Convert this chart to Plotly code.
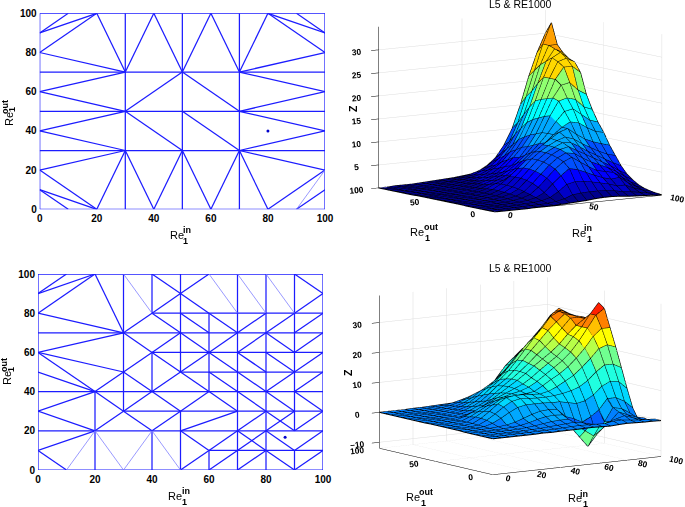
import numpy as np
import plotly.graph_objects as go

W, H = 685, 507
TITLE = "L5 & RE1000"
BLUE = "#1c1cff"
GRID_IN = list(range(0, 101, 5))
GRID_OUT = list(range(0, 101, 5))

# ---- mesh panels: edges in (Re_in, Re_out)
MESH1_EDGES = [
 (0,0,100,0),(0,100,100,100),(0,0,0,100),(100,0,100,100),
 (30,0,30,100),(50,0,50,100),(70,0,70,100),(0,30,100,30),(0,50,100,50),(0,70,100,70),
 (0,90,10,100),(0,90,20,100),(0,80,20,100),(20,100,30,70),(0,80,30,70),(30,70,40,100),(40,100,50,70),
 (50,70,60,100),(60,100,70,70),(70,70,80,100),(80,100,100,90),(80,100,100,80),(90,100,100,90),(70,70,100,80),
 (0,60,30,70),(0,60,30,50),(30,50,50,70),(50,70,70,50),(70,70,100,60),(70,50,100,60),(0,40,30,50),(0,40,30,30),
 (30,50,50,30),(50,50,70,30),(70,50,100,40),(70,30,100,40),(0,20,30,30),(30,30,20,0),(30,30,40,0),(40,0,50,30),
 (50,30,60,0),(60,0,70,30),(70,30,80,0),(70,30,100,20),(80,0,100,20),(90,0,100,10),(0,20,20,0),(0,10,20,0),(0,10,10,0),
]
MESH1_THIN = [(90,0,100,20)]
MESH1_POINT = (80, 40)

MESH2_EDGES = [
 (0,0,100,0),(0,100,100,100),(0,0,0,100),(100,0,100,100),
 (0,70,100,70),(0,40,100,40),(0,20,100,20),(50,50,100,50),(40,60,100,60),(40,80,100,80),(30,30,100,30),(60,10,100,10),
 (20,0,20,40),(30,30,30,100),(40,0,40,20),(40,40,40,60),(40,80,40,100),(50,0,50,30),(50,50,50,100),
 (60,40,60,80),(60,0,60,10),(70,0,70,100),(80,0,80,100),(90,20,90,100),(90,0,90,10),
 (0,90,10,100),(0,90,20,100),(0,80,20,100),(20,100,30,70),(0,80,30,70),(30,70,40,80),(30,70,0,60),(30,70,40,60),
 (0,60,30,50),(0,60,20,40),(0,50,20,40),(20,40,0,30),(20,40,30,50),(30,50,40,60),(40,60,50,70),(40,80,50,90),(40,80,50,70),
 (40,100,50,90),(50,90,60,100),(50,90,60,80),(50,80,60,70),(50,70,60,60),(60,80,70,70),(70,70,80,80),
 (80,70,90,80),(90,70,100,80),(80,70,90,60),(60,60,70,70),(70,60,80,70),(90,60,100,70),(60,60,70,50),(70,60,80,50),
 (80,60,90,50),(90,50,100,60),(50,50,60,60),(90,100,100,90),(90,80,100,90),
 (30,50,40,40),(20,40,30,30),(30,30,40,40),(40,60,50,50),(40,40,50,50),(50,50,60,40),(40,40,50,30),(30,30,40,20),(40,20,50,30),
 (20,20,30,30),(0,30,20,20),(0,10,20,20),(0,10,10,0),
 (50,30,60,40),(60,40,70,30),(60,50,70,40),(70,50,80,40),(70,40,80,30),(80,40,90,30),(80,40,90,50),(90,40,100,50),(90,40,100,30),
 (80,30,90,20),(90,20,100,30),(90,30,80,20),(80,20,60,0),(70,20,80,10),(80,10,90,0),(70,20,60,10),(60,10,50,0),(50,20,60,10),
 (50,20,70,30),(70,0,80,10),(80,20,90,10),(90,10,100,20),(90,0,100,10),(70,20,80,30),
]
MESH2_THIN = [(30,100,40,80),(60,100,70,80),(70,100,80,80),(80,100,90,80),(10,0,20,20),(20,20,30,0),(30,0,40,20),(40,20,50,0)]
MESH2_POINT = (86.7, 16.7)

# ---- surfaces: rows are Re_out = 0,5,...,100, columns Re_in = 0,5,...,100
Z_TOP = [
 [0,0,0,0,0,.1,.1,.1,.2,.3,.4,.5,.7,.8,.8,.7,.5,.4,.3,.2,.1],
 [0,0,0,.1,.1,.2,.2,.3,.5,.9,1.6,1.8,1.9,1.9,1.8,1.6,1.2,1,.7,.4,.2],
 [0,0,.1,.1,.2,.3,.4,.6,1.1,2.2,3.6,4,3.9,3.6,3.2,2.8,2.2,2.2,1.4,.8,.4],
 [0,.1,.1,.2,.3,.4,.6,1,1.9,3.6,5.2,6.6,6.2,5.4,4.6,3.9,3.4,3.6,2.3,1.3,.7],
 [0,.1,.1,.2,.3,.5,.8,1.4,2.8,4.6,6.4,7.8,8.6,7.4,6.2,5.2,4.8,4.4,3.2,2,1.2],
 [0,.1,.2,.3,.4,.6,1,1.8,3.4,5.2,7,8.4,9.3,9,7.8,6.8,6,5.2,4.2,3,2],
 [.1,.1,.2,.3,.4,.7,1.2,2.1,3.8,5.6,7.4,8.8,9.8,10.2,9.2,8.2,7.2,6.2,5.2,4,3],
 [.1,.1,.2,.3,.5,.7,1.3,2.3,4,5.8,7.6,9,10,10.8,10.6,9.6,8.4,7.4,6.4,5.4,4.5],
 [.1,.1,.2,.3,.5,.8,1.4,2.4,4,5.8,7.6,9,10.1,11,11.6,11,9.8,8.8,7.8,7,6.5],
 [.1,.1,.2,.3,.5,.8,1.4,2.4,3.8,5.4,7,8.6,10,11.2,12.4,13,11.6,10.4,9.6,9,8.5],
 [.1,.1,.2,.3,.5,.8,1.3,2.2,2.8,3.8,5.2,6.8,8.4,10,11.6,13,14,13.6,12.4,11.4,11],
 [.1,.1,.2,.3,.4,.7,1.1,1.8,2.6,3.4,4.6,6.2,7.8,9.6,11.6,14,16,16.4,15,13.6,13],
 [.1,.1,.2,.2,.4,.7,1,1.6,2.2,3,4,5.4,7,9,11.5,15,18,18.5,18,16.2,15.5],
 [.1,.1,.1,.2,.4,.6,.9,1.4,1.9,2.6,3.4,4.6,6.2,8.4,11,14.6,18.4,21,21.4,19.6,18.5],
 [0,.1,.1,.2,.3,.5,.8,1.2,1.6,2.2,2.9,4.2,6,8,10.5,14,18,22,24.5,24.5,23],
 [0,.1,.1,.2,.3,.5,.7,1,1.4,1.9,2.5,3.6,5.2,7.2,9.8,13.4,17.6,22,25.4,26,25],
 [0,.1,.1,.2,.3,.4,.6,.9,1.2,1.6,2.2,3.2,4.5,6.5,9,12.5,17,22,26,27,25.5],
 [0,0,.1,.1,.2,.4,.5,.8,1.1,1.4,1.8,2.6,3.6,5.4,7.6,11,15.4,20.4,25,27.5,26.5],
 [0,0,.1,.1,.2,.3,.4,.6,.9,1.2,1.5,2.2,3,4.5,6.5,9.5,13.5,18.5,24,28,28],
 [0,0,.1,.1,.2,.3,.4,.5,.7,.9,1.2,1.7,2.4,3.6,5.2,7.6,11.5,17,22.5,28,32.5],
 [0,0,.1,.1,.1,.2,.3,.4,.5,.6,.8,1,1.5,2.5,4,6.5,10,15,21,26,30],
]
Z_BOTTOM = [
 [0,0,0,0,0,0,.1,0,.1,.1,.1,.2,.2,.1,0,.2,.3,.2,.1,.1,0],
 [0,0,0,.1,.1,.1,.2,.2,.3,.4,.5,.6,.5,.4,.3,.8,.9,.6,.3,.2,0],
 [0,0,.1,.1,.1,.2,.3,.4,.6,.8,1,1.2,.8,0,-1,0,.8,1.6,.6,-.2,-1],
 [0,.1,.1,.2,.2,.3,.5,.8,1.2,1.6,1.8,1.8,-.5,-2.5,-4.5,-2.5,-.5,2.4,1.2,.2,-.5],
 [0,.1,.1,.2,.3,.5,.8,1.4,2.2,2.8,3,2.8,-1.5,-5,-8.5,-5,-1,3.4,2.8,1,-1.5],
 [0,.1,.2,.3,.5,.8,1.4,2.4,3.4,4.2,4.4,4.2,1.5,.5,-1,.5,2.5,6,6,4.5,2],
 [.1,.1,.2,.4,1.2,2.6,4.2,5.6,6.2,6.2,6.2,6,6,5.4,4.8,5.4,7,9.6,11,10.6,8],
 [.1,.1,.2,.5,1.8,3.6,5.6,7.2,7.8,7.6,7.4,7.4,7.6,8,8.6,9.6,11.4,14,16,16,14.5],
 [.1,.1,.3,.6,2,4,6.2,8,8.4,8.4,8.2,8,8.6,9.8,11.4,13,15.4,18,21,22,21],
 [.1,.1,.3,.6,2,3.6,5.4,7,7.6,7.8,8,8.4,10,11.8,13.4,15.4,18,21,24.6,27,27],
 [.1,.1,.3,.5,1.6,3,4.6,6,7,7.8,8.4,9.4,11,13,15,17,19.6,23,27,31,33],
 [.1,.1,.2,.4,1.2,2.4,3.8,5,6.4,7.6,8.8,10,11.8,14,16,18,20.6,24,27,31,34.5],
 [0,.1,.2,.3,.6,1.2,2.2,3.6,5.4,7.2,9,10.8,12.8,15,17,19,21.4,24.4,27,29,31],
 [0,.1,.2,.3,.5,1,1.8,3,4.4,6.6,8.8,10.8,13,15.4,18,20.4,23,26,29,29,28.5],
 [0,.1,.1,.2,.4,.8,1.4,2.4,3.8,6,8.4,10.4,13,16,19,22,25,27.6,30,29.2,28.5],
 [0,0,.1,.2,.3,.6,1.1,1.9,3.2,5.2,7.6,9.8,12.4,15.6,19,22.4,25.5,29,30.4,29.4,28.3],
 [0,0,.1,.2,.3,.5,.9,1.5,2.6,4.4,6.6,8.4,11,14,17.5,20.5,23,26.5,29.5,30,28.5],
 [0,0,.1,.1,.2,.4,.7,1.2,2,3.4,5.4,7,9,11.6,15,17.8,20,23,27,29.5,29],
 [0,0,.1,.1,.2,.3,.5,.9,1.6,2.6,4,5.2,7,9,12,15.5,18,21,24,27.5,29.5],
 [0,0,0,.1,.1,.2,.4,.6,1.1,1.8,2.6,3.6,5,7,9.5,12,15,17.5,20,24,27],
 [0,0,0,0,.1,.1,.2,.3,.4,.5,.6,.5,1.5,3.5,7.5,11,13.5,16,18,21.5,24.6],
]
# colour bands: (upper z limit, colour)
BANDS_TOP = [(1.5,"#00008c"),(3.5,"#0000c8"),(6,"#0000ff"),(9.5,"#0050ff"),(13.5,"#00a8ff"),(18,"#00ffff"),(22.5,"#90ff70"),(27,"#ffd800"),(40,"#ffa000")]
BANDS_BOTTOM = [(-.3,"#0060ff"),(2,"#0080ff"),(6,"#00a8ff"),(10,"#00d8ff"),(15,"#20ffe0"),(20,"#70ff90"),(23.5,"#b8ff48"),(26,"#ffff00"),(28.5,"#ffc000"),(31,"#ff8000"),(40,"#ff2000")]

fig = go.Figure()

def seg_xy(edges):
    xs, ys = [], []
    for a, b, c, d in edges:
        xs += [a, c, None]
        ys += [b, d, None]
    return xs, ys

def mesh_panel(edges, thin, point, xa, ya):
    x, y = seg_xy(edges)
    fig.add_trace(go.Scatter(x=x, y=y, mode="lines", line=dict(color=BLUE, width=1.25), xaxis=xa, yaxis=ya,
                             cliponaxis=False, hoverinfo="skip", showlegend=False))
    x, y = seg_xy(thin)
    fig.add_trace(go.Scatter(x=x, y=y, mode="lines", line=dict(color="#8080ff", width=.8), xaxis=xa, yaxis=ya,
                             cliponaxis=False, hoverinfo="skip", showlegend=False))
    fig.add_trace(go.Scatter(x=[point[0]], y=[point[1]], mode="markers", marker=dict(color="#0000cc", size=3),
                             xaxis=xa, yaxis=ya, hoverinfo="skip", showlegend=False))

mesh_panel(MESH1_EDGES, MESH1_THIN, MESH1_POINT, "x", "y")
mesh_panel(MESH2_EDGES, MESH2_THIN, MESH2_POINT, "x2", "y2")

def stepped(bands, cmin, cmax):
    scale, lo = [], cmin
    for hi, col in bands:
        a, b = (lo - cmin) / (cmax - cmin), (min(hi, cmax) - cmin) / (cmax - cmin)
        scale += [[a, col], [b, col]]
        lo = hi
    return scale

def surface(Z, bands, scene, lowcolor=False):
    z = np.array(Z, float)
    nr, nc = z.shape
    X, Y = np.meshgrid(GRID_IN, GRID_OUT)
    i, j, k, cell = [], [], [], []
    for r in range(nr - 1):
        for c in range(nc - 1):
            p = r * nc + c
            v = z[r:r+2, c:c+2].mean()
            # the front wall of the hanging fold, seen from below, is light in the picture
            if lowcolor and v < -1 and z[r+1, c:c+2].mean() < z[r, c:c+2].mean():
                v = 9 - v * 1.5
            i += [p, p]; j += [p + 1, p + nc + 1]; k += [p + nc + 1, p + nc]
            cell += [v, v]
    cmin, cmax = -15.0, 40.0
    fig.add_trace(go.Mesh3d(x=X.ravel(), y=Y.ravel(), z=z.ravel(), i=i, j=j, k=k, intensity=cell, intensitymode="cell",
                            colorscale=stepped(bands, cmin, cmax), cmin=cmin, cmax=cmax, showscale=False, flatshading=True,
                            lighting=dict(ambient=1, diffuse=0, specular=0, fresnel=0, roughness=1),
                            hoverinfo="skip", scene=scene))
    lx, ly, lz = [], [], []
    for r in range(nr):
        lx += list(X[r]) + [None]; ly += list(Y[r]) + [None]; lz += list(z[r]) + [None]
    for c in range(nc):
        lx += list(X[:, c]) + [None]; ly += list(Y[:, c]) + [None]; lz += list(z[:, c]) + [None]
    fig.add_trace(go.Scatter3d(x=lx, y=ly, z=lz, mode="lines", line=dict(color="black", width=2),
                               hoverinfo="skip", showlegend=False, scene=scene))

surface(Z_TOP, BANDS_TOP, "scene")
surface(Z_BOTTOM, BANDS_BOTTOM, "scene2", lowcolor=True)

TICKF = dict(family="Liberation Sans", size=10, color="black", weight="bold")

def axis2d(px0, px1, size):
    return dict(domain=[px0 / size, px1 / size], range=[0, 100], tickvals=list(range(0, 101, 20)), showgrid=False,
                zeroline=False, showline=False, ticks="", tickfont=TICKF, ticklabelstandoff=2, automargin=False)

def axis3d(vals, rng, ticklen=3, tickcolor="black"):
    return dict(range=rng, tickvals=vals, title=dict(text=""), showbackground=False, showgrid=True, gridcolor="#dddddd",
                gridwidth=1, zeroline=False, showline=True, linecolor="black", linewidth=1, ticks="outside", ticklen=ticklen,
                tickcolor=tickcolor, tickfont=TICKF, showspikes=False, autorange=False)

GROUND_TICK = dict(ticklen=9, tickcolor="rgba(0,0,0,0)")

def camera(hx, hy, sin_el, d, shift):
    cos_el = (1 - sin_el ** 2) ** .5
    return dict(eye=dict(x=hx * cos_el * d, y=hy * cos_el * d, z=sin_el * d), up=dict(x=0, y=0, z=1),
                center=dict(x=-shift * -hy, y=-shift * hx, z=0), projection=dict(type="orthographic"))

def scene_dom(cx, cy, w, h):
    return dict(x=[(cx - w / 2) / W, (cx + w / 2) / W], y=[1 - (cy + h / 2) / H, 1 - (cy - h / 2) / H])

anns = []
def text(x, y, s, size=10.5, angle=0, bold=False):
    anns.append(dict(x=x / W, y=1 - y / H, xref="paper", yref="paper", text=s, showarrow=False, textangle=angle,
                     xanchor="center", yanchor="middle", font=dict(family="Liberation Sans", size=size, color="black",
                     weight="bold" if bold else "normal")))

def relabel(re, sup, sub, suptext, angle=0):
    text(*re, "Re", 11, angle)
    text(*sup, suptext, 9, angle, True)
    text(*sub, "1", 9, angle, True)

relabel((177, 235), (187, 230), (185, 241), "in")
relabel((9, 119), (5, 107), (12, 110), "out", -90)
relabel((175, 496), (186, 491), (184, 502), "in")
relabel((7, 378), (4, 365), (11, 370), "out", -90)
relabel((417, 232), (431, 227), (427, 238), "out")
relabel((579, 233), (588, 228), (589, 239), "in")
relabel((413, 497), (426, 492), (423, 503), "out")
relabel((575, 498), (584, 494), (585, 504), "in")
text(520, 4, TITLE, 10.5)
text(520, 268, TITLE, 10.5)
text(353, 108, "Z", 10.5, -90, True)
text(348, 372, "Z", 10.5, -90, True)

SCALE = 1.85
fig.update_layout(
    width=W, height=H, margin=dict(l=0, r=0, t=0, b=0, autoexpand=False), paper_bgcolor="white", plot_bgcolor="white", showlegend=False,
    xaxis=dict(axis2d(39.7, 325, W), anchor="y"),
    yaxis=dict(axis2d(H - 209.3, H - 13.3, H), anchor="x"),
    xaxis2=dict(axis2d(38, 323, W), anchor="y2"),
    yaxis2=dict(axis2d(H - 470, H - 274, H), anchor="x2"),
    scene=dict(domain=scene_dom(512.5, 110.5, 345, 220), aspectmode="manual",
               aspectratio=dict(x=1 * SCALE, y=1.0 * SCALE, z=.80 * SCALE),
               camera=camera(-.6, -.8, .1437, 2.0, .07),
               xaxis=axis3d([0, 50, 100], [0, 100], **GROUND_TICK), yaxis=axis3d([0, 50, 100], [0, 100], **GROUND_TICK),
               zaxis=axis3d([0, 5, 10, 15, 20, 25, 30], [0, 35])),
    scene2=dict(domain=scene_dom(512.5, 376, 345, 220), aspectmode="manual",
                aspectratio=dict(x=1 * SCALE, y=.99 * SCALE, z=.76 * SCALE),
                camera=camera(-.592, -.806, .159, 2.0, .07),
                xaxis=axis3d([0, 20, 40, 60, 80, 100], [0, 100], **GROUND_TICK), yaxis=axis3d([0, 50, 100], [0, 100], **GROUND_TICK),
                zaxis=axis3d([-10, 0, 10, 20, 30], [-12, 39])),
    annotations=anns,
)
fig.write_html("out.html", config=dict(displayModeBar=False), post_script="document.body.style.margin='0';")
